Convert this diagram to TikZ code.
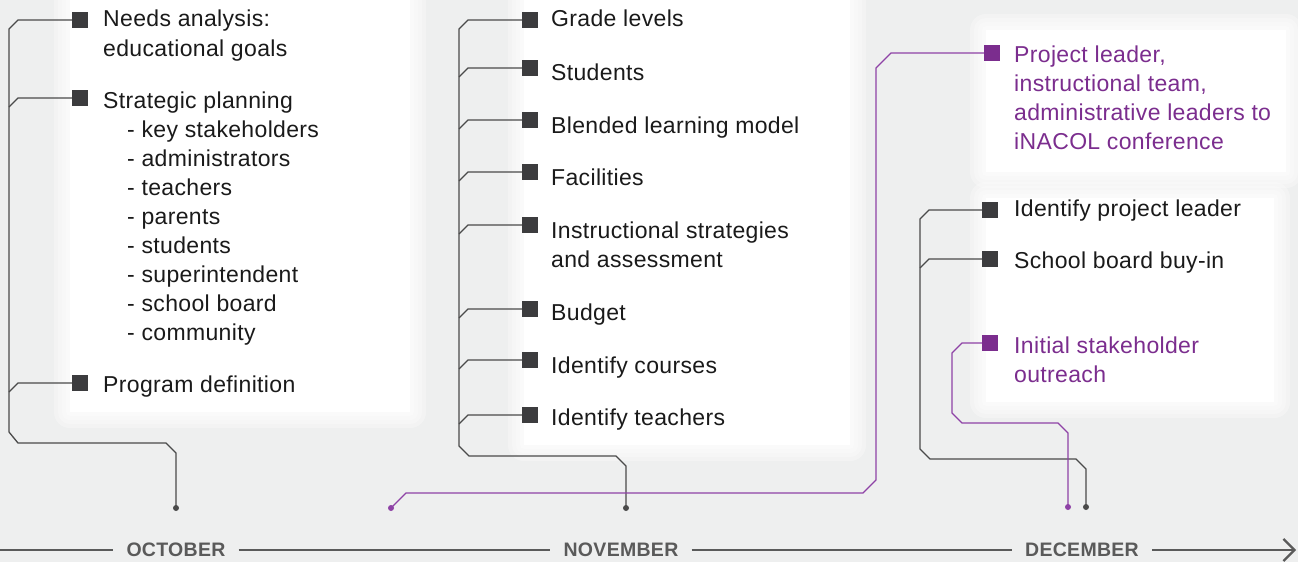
\documentclass[tikz,border=0pt]{standalone}
\usepackage{fontspec}
\setmainfont{Liberation Sans}[LetterSpace=1.5]
\usetikzlibrary{arrows.meta}

\definecolor{bgpage}{HTML}{EEEFEF}
\definecolor{boxgray}{HTML}{3C3C3E}
\definecolor{wire}{HTML}{4A4A4A}
\definecolor{ink}{HTML}{1A1A1A}
\definecolor{plum}{HTML}{7B2D8E}
\definecolor{pwire}{HTML}{8E42A6}
\definecolor{axisgray}{HTML}{5A5A5A}

% white card with a soft edge
\newcommand{\softpanel}[4]{%
  \foreach \e in {16,12,8,4}{\fill[white,opacity=0.3,rounded corners=\e pt] (#1-\e,#2-\e) rectangle (#3+\e,#4+\e);}
  \fill[white] (#1,#2) rectangle (#3,#4);}
% lines stacked under the first baseline
\newcommand{\stack}[1]{\begin{tabular}[t]{@{}l@{}}#1\end{tabular}}

\begin{document}
\begin{tikzpicture}[x=1pt,y=-1pt,
  sq/.style={rectangle,minimum size=16pt,inner sep=0pt,fill=boxgray},
  psq/.style={sq,fill=plum},
  item/.style={anchor=base west,inner sep=0pt,font=\fontsize{23}{29}\selectfont,text=ink},
  pitem/.style={item,text=plum},
  twig/.style={draw=wire,line width=1.3pt},
  ptwig/.style={draw=pwire,line width=1.3pt},
  dot/.style={circle,inner sep=0pt,minimum size=6pt,fill=wire},
  pdotstyle/.style={dot,fill=pwire},
  month/.style={font=\fontsize{19.5}{20}\selectfont\bfseries,text=axisgray,inner xsep=13pt,inner ysep=0pt},
  axis/.style={draw=axisgray,line width=2.2pt}]
\useasboundingbox (0,0) rectangle (1298,562);
\fill[bgpage] (0,0) rectangle (1298,562);
\softpanel{70}{-20}{410}{412}
\softpanel{524}{-20}{850}{445}
\softpanel{986}{30}{1286}{172}
\softpanel{986}{198}{1274}{402}

% October
\node[sq] (o1) at (80,20) {};
\node[item] (o1t) at (103,27) {\stack{Needs analysis:\\educational goals}};
\node[sq] (o2) at (80,98) {};
\node[item] (o2t) at (103,108) {\stack{Strategic planning\\
  \hspace*{24pt}- key stakeholders\\
  \hspace*{24pt}- administrators\\
  \hspace*{24pt}- teachers\\
  \hspace*{24pt}- parents\\
  \hspace*{24pt}- students\\
  \hspace*{24pt}- superintendent\\
  \hspace*{24pt}- school board\\
  \hspace*{24pt}- community}};
\node[sq] (o3) at (80,383) {};
\node[item] (o3t) at (103,392) {Program definition};
\node[dot] (odot) at (176,508) {};
\draw[twig] (o1.west) -- (18,20) -- (9,29) -- (9,432) -- (18,443) -- (166,443) -- (176,453) -- (odot.center);
\draw[twig] (o2.west) -- (18,98) -- (9,107);
\draw[twig] (o3.west) -- (18,383) -- (9,392);

% November
\node[sq] (m1) at (530,20) {};
\node[item] (m1t) at (551,27) {Grade levels};
\node[sq] (m2) at (530,68) {};
\node[item] (m2t) at (551,80) {Students};
\node[sq] (m3) at (530,120) {};
\node[item] (m3t) at (551,133) {Blended learning model};
\node[sq] (m4) at (530,172) {};
\node[item] (m4t) at (551,185) {Facilities};
\node[sq] (m5) at (530,225) {};
\node[item] (m5t) at (551,238) {\stack{Instructional strategies\\and assessment}};
\node[sq] (m6) at (530,309) {};
\node[item] (m6t) at (551,320) {Budget};
\node[sq] (m7) at (530,360) {};
\node[item] (m7t) at (551,373) {Identify courses};
\node[sq] (m8) at (530,415) {};
\node[item] (m8t) at (551,425) {Identify teachers};
\node[dot] (mdot) at (626,508) {};
\draw[twig] (m1.west) -- (468,20) -- (459,29) -- (459,446) -- (469,456) -- (616,456) -- (626,466) -- (mdot.center);
\draw[twig] (m2.west) -- (468,68) -- (459,77);
\draw[twig] (m3.west) -- (468,120) -- (459,129);
\draw[twig] (m4.west) -- (468,172) -- (459,181);
\draw[twig] (m5.west) -- (468,225) -- (459,234);
\draw[twig] (m6.west) -- (468,309) -- (459,318);
\draw[twig] (m7.west) -- (468,360) -- (459,369);
\draw[twig] (m8.west) -- (468,415) -- (459,424);

% December
\node[psq] (p1) at (992,53) {};
\node[pitem] (p1t) at (1014,62) {\stack{Project leader,\\instructional team,\\administrative leaders to\\iNACOL conference}};
\node[pdotstyle] (pdot) at (391,508) {};
\draw[ptwig] (pdot.center) -- (406,493) -- (863,493) -- (876,480) -- (876,68) -- (891,53) -- (p1.west);

\node[sq] (d1) at (990,210) {};
\node[item] (d1t) at (1014,216) {Identify project leader};
\node[sq] (d2) at (990,259) {};
\node[item] (d2t) at (1014,268) {School board buy-in};
\node[dot] (ddot) at (1086,507) {};
\draw[twig] (d1.west) -- (929,210) -- (920,219) -- (920,449) -- (930,459) -- (1076,459) -- (1086,469) -- (ddot.center);
\draw[twig] (d2.west) -- (929,259) -- (920,268);

\node[psq] (p2) at (990,343) {};
\node[pitem] (p2t) at (1014,353) {\stack{Initial stakeholder\\outreach}};
\node[pdotstyle] (pdot2) at (1068,507) {};
\draw[ptwig] (p2.west) -- (962,343) -- (952,353) -- (952,413) -- (962,423) -- (1058,423) -- (1068,433) -- (pdot2.center);

% time axis
\node[month] (oct) at (176,550) {OCTOBER};
\node[month] (nov) at (621,550) {NOVEMBER};
\node[month] (dec) at (1082,550) {DECEMBER};
\draw[axis] (0,550) -- (oct.west);
\draw[axis] (oct.east) -- (nov.west);
\draw[axis] (nov.east) -- (dec.west);
\draw[axis,-{Straight Barb[length=11pt,width=22pt]}] (dec.east) -- (1296,550);

\end{tikzpicture}
\end{document}
